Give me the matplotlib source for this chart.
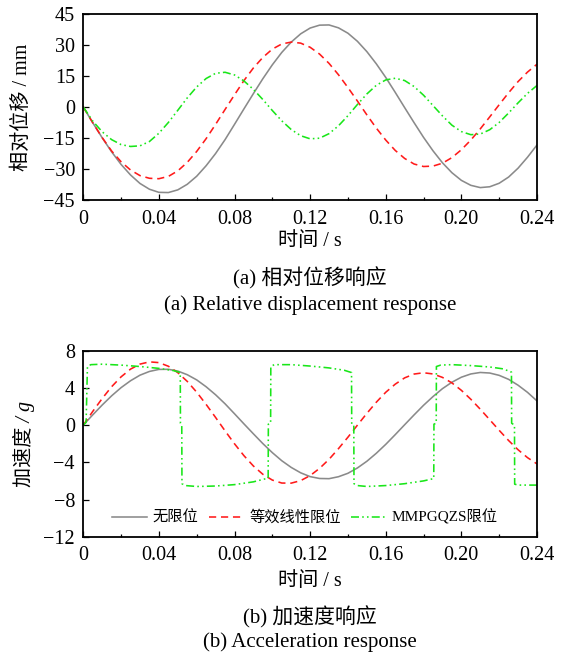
import matplotlib
matplotlib.use('Agg')
import matplotlib.pyplot as plt
from matplotlib.ticker import FixedLocator

plt.rcParams['font.family'] = ['Liberation Serif', 'Noto Sans CJK SC']
plt.rcParams['axes.unicode_minus'] = True

# ---------------- data ----------------
time_s = [0.000, 0.005, 0.010, 0.015, 0.020, 0.025, 0.030, 0.035, 0.040, 0.045,
          0.050, 0.055, 0.060, 0.065, 0.070, 0.075, 0.080, 0.085, 0.090, 0.095,
          0.100, 0.105, 0.110, 0.115, 0.120, 0.125, 0.130, 0.135, 0.140, 0.145,
          0.150, 0.155, 0.160, 0.165, 0.170, 0.175, 0.180, 0.185, 0.190, 0.195,
          0.200, 0.205, 0.210, 0.215, 0.220, 0.225, 0.230, 0.235, 0.240]

disp_none = [0, -7.6, -14.9, -21.7, -27.8, -32.9, -37.0, -39.8, -41.3, -41.4,
             -40.1, -37.4, -33.5, -28.4, -22.5, -15.8, -8.4, -0.9, 6.5, 13.7,
             20.4, 26.4, 31.4, 35.4, 38.2, 39.6, 39.7, 38.3, 35.7, 31.8,
             26.8, 20.9, 14.3, 7.1, -0.3, -7.6, -14.7, -21.2, -27.0, -31.8,
             -35.5, -37.9, -39.0, -38.6, -36.9, -33.9, -29.6, -24.3, -18.4]

disp_linear = [0, -7.6, -14.8, -21.3, -26.5, -30.5, -33.2, -34.5, -34.7, -33.6,
               -30.9, -26.8, -21.5, -15.3, -8.4, -1.2, 5.9, 12.8, 18.9, 24.0,
               28.0, 30.5, 31.4, 30.9, 28.9, 25.6, 21.1, 15.6, 9.4, 2.9,
               -3.8, -10.2, -16.0, -21.0, -24.9, -27.6, -28.8, -28.6, -27.2, -24.5,
               -20.7, -16.0, -10.6, -4.8, 1.1, 6.9, 12.3, 16.9, 20.7]

disp_mmpgqzs = [0, -6.8, -12.0, -15.8, -18.2, -19.1, -18.8, -16.7, -12.7, -7.5,
                -1.6, 4.4, 9.7, 13.8, 16.3, 16.8, 15.5, 12.6, 8.5, 3.6,
                -1.7, -6.7, -10.9, -13.9, -15.4, -15.1, -12.9, -9.1, -4.2, 1.2,
                6.3, 10.5, 13.1, 13.9, 12.8, 9.9, 5.7, 0.7, -4.3, -8.8,
                -11.9, -13.4, -13.1, -11.0, -7.5, -2.9, 2.0, 6.6, 10.4]

acc_none = [0, 1.10, 2.16, 3.15, 4.03, 4.77, 5.37, 5.77, 5.99, 6.00,
            5.81, 5.42, 4.86, 4.12, 3.26, 2.29, 1.22, 0.13, -0.94, -1.99,
            -2.96, -3.83, -4.55, -5.13, -5.54, -5.74, -5.76, -5.55, -5.18, -4.61,
            -3.89, -3.03, -2.07, -1.03, 0.04, 1.10, 2.13, 3.07, 3.92, 4.61,
            5.15, 5.50, 5.66, 5.60, 5.35, 4.92, 4.29, 3.52, 2.60]

acc_linear = [0, 1.47, 2.86, 4.13, 5.19, 6.02, 6.56, 6.80, 6.72, 6.33,
              5.64, 4.70, 3.54, 2.22, 0.82, -0.62, -2.01, -3.29, -4.40, -5.29,
              -5.91, -6.23, -6.24, -5.97, -5.43, -4.65, -3.68, -2.53, -1.30, -0.01,
              1.26, 2.46, 3.53, 4.40, 5.08, 5.49, 5.63, 5.50, 5.13, 4.54,
              3.74, 2.78, 1.71, 0.58, -0.56, -1.66, -2.65, -3.50, -4.17]

acc_mmpgqzs_t = [0.0, 0.0015, 0.0022, 0.004, 0.010, 0.020, 0.030, 0.040, 0.048, 0.0513,
                 0.0514, 0.0521, 0.0522, 0.054, 0.060, 0.070, 0.080, 0.090, 0.0978, 0.0979,
                 0.0991, 0.0992, 0.101, 0.110, 0.120, 0.130, 0.138, 0.1419, 0.1420, 0.1431,
                 0.1432, 0.145, 0.150, 0.160, 0.170, 0.180, 0.1854, 0.1855, 0.1867, 0.1868,
                 0.189, 0.195, 0.205, 0.215, 0.222, 0.2265, 0.2266, 0.2281, 0.2282, 0.230,
                 0.240]
acc_mmpgqzs = [0.0, 0.3, 6.3, 6.5, 6.55, 6.45, 6.3, 6.1, 5.85, 5.65,
               0.2, 0.0, -6.3, -6.5, -6.6, -6.55, -6.4, -6.1, -5.7, 0.1,
               0.2, 6.3, 6.5, 6.5, 6.35, 6.15, 5.9, 5.65, 0.1, 0.0,
               -6.3, -6.5, -6.6, -6.5, -6.3, -6.0, -5.75, 0.1, 0.2, 6.3,
               6.45, 6.5, 6.4, 6.25, 6.05, 5.7, 0.2, 0.0, -6.35, -6.45,
               -6.45]

x_ticks = [0, 0.04, 0.08, 0.12, 0.16, 0.20, 0.24]
x_tick_labels = ['0', '0.04', '0.08', '0.12', '0.16', '0.20', '0.24']
x_minor = [0.02, 0.06, 0.10, 0.14, 0.18, 0.22]
y1_ticks = [45, 30, 15, 0, -15, -30, -45]
y2_ticks = [8, 4, 0, -4, -8, -12]

series_names = ['无限位', '等效线性限位', 'MMPGQZS限位']

# ---------------- styles ----------------
gray_c = '#8a8a8a'
red_c = '#ff1a1a'
green_c = '#19e619'
lw = 1.15
red_dash = (4.5, 3.0)
green_dash = (5.0, 2.0, 1.0, 2.0, 1.0, 2.0)
FS = 14.5
CAP = 15

fig = plt.figure(figsize=(5.65, 6.57), dpi=100)
ax1 = fig.add_axes([0.1474, 0.6956, 0.803, 0.2831])
ax2 = fig.add_axes([0.1474, 0.1831, 0.803, 0.2831])


def style(ax, yticks, ylim):
    ax.set_xlim(0, 0.24)
    ax.set_ylim(*ylim)
    ax.xaxis.set_major_locator(FixedLocator(x_ticks))
    ax.set_xticklabels(x_tick_labels)
    ax.xaxis.set_minor_locator(FixedLocator(x_minor))
    ax.yaxis.set_major_locator(FixedLocator(yticks))
    ax.set_yticklabels([str(v).replace('-', '\u2212') for v in yticks])
    ax.tick_params(which='both', direction='in', top=False, right=False)
    ax.tick_params(which='major', length=4.5, width=0.9, labelsize=FS)
    ax.tick_params(which='minor', length=2.3, width=0.9)
    ax.tick_params(axis='x', which='major', pad=7)
    ax.tick_params(axis='y', which='major', pad=6)
    for s in ax.spines.values():
        s.set_linewidth(1.3)


# ---- top: displacement ----
ax1.plot(time_s, disp_none, color=gray_c, lw=lw)
ax1.plot(time_s, disp_linear, color=red_c, lw=lw, dashes=red_dash)
ax1.plot(time_s, disp_mmpgqzs, color=green_c, lw=lw, dashes=green_dash)
style(ax1, y1_ticks, (-45, 45))

# ---- bottom: acceleration ----
ax2.plot(time_s, acc_none, color=gray_c, lw=lw, label=series_names[0])
ax2.plot(time_s, acc_linear, color=red_c, lw=lw, dashes=red_dash, label=series_names[1])
ax2.plot(acc_mmpgqzs_t, acc_mmpgqzs, color=green_c, lw=lw, dashes=green_dash,
         label=series_names[2])
style(ax2, y2_ticks, (-12, 8))
ax2.legend(loc='center', bbox_to_anchor=(0.488, 0.105), ncol=3, frameon=False,
           fontsize=11, handlelength=2.3, handletextpad=0.35, columnspacing=0.7,
           borderaxespad=0, borderpad=0)

W, H = 565.0, 657.0
cx = 310.0 / W


def ft(y_px, s, size=FS, **kw):
    fig.text(cx, 1 - y_px / H, s, ha='center', va='center', fontsize=size, **kw)


ft(242, '时间 / s')
ft(278, '(a) 相对位移响应', CAP)
ft(305, '(a) Relative displacement response', CAP)
ft(581, '时间 / s')
ft(617.5, '(b) 加速度响应', CAP)
ft(642.5, '(b) Acceleration response', CAP)

fig.text(22 / W, 1 - 107 / H, '相对位移 / mm', rotation=90, ha='center', va='center',
         fontsize=FS)
fig.text(24 / W, 1 - 444 / H, '加速度 / g', rotation=90, ha='center', va='center',
         fontsize=FS, style='italic')

fig.savefig('out.png', dpi=100)
